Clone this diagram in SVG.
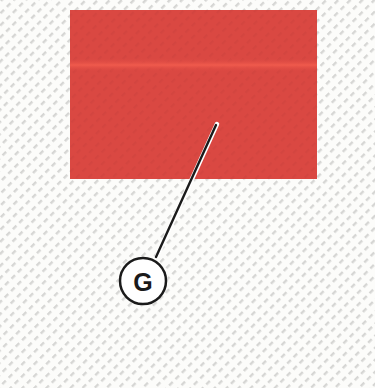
<svg xmlns="http://www.w3.org/2000/svg" width="375" height="388" viewBox="0 0 375 388">
  <style>
    .lead-halo { stroke: #ffffff; stroke-width: 4.5; fill: none; stroke-linecap: round; }
    .lead { stroke: #1a1a1a; stroke-width: 2.4; fill: none; stroke-linecap: round; }
    .callout { fill: #ffffff; stroke: #1a1a1a; stroke-width: 2.5; }
    .callout-text { font-family: "Liberation Sans", Arial, sans-serif; font-weight: bold; font-size: 25px; fill: #1a1a1a; text-anchor: middle; }
  </style>
  <defs>
    <pattern id="hatch" width="9" height="8.5" patternUnits="userSpaceOnUse" patternTransform="rotate(-45)">
      <rect x="0" y="0" width="5" height="2.4" fill="#d6d6d4"/>
    </pattern>
    <pattern id="hatchRed" width="9" height="8.5" patternUnits="userSpaceOnUse" patternTransform="rotate(-45)">
      <rect x="0" y="0" width="5" height="2.4" fill="#c4403b" opacity="0.3"/>
    </pattern>
    <linearGradient id="stripe" x1="0" y1="0" x2="0" y2="1">
      <stop offset="0" stop-color="#da4842" stop-opacity="0"/>
      <stop offset="0.5" stop-color="#f05a4c"/>
      <stop offset="1" stop-color="#da4842" stop-opacity="0"/>
    </linearGradient>
  </defs>
  <rect x="0" y="0" width="375" height="388" fill="#fcfcfa"/>
  <rect x="0" y="0" width="375" height="388" fill="url(#hatch)"/>
  <g id="panel">
    <rect x="70" y="10" width="247" height="169" fill="#da4842"/>
    <rect x="70" y="10" width="247" height="169" fill="url(#hatchRed)"/>
    <rect x="70" y="58" width="247" height="14" fill="url(#stripe)"/>
  </g>
  <g id="connectors">
    <line class="lead-halo" x1="217" y1="124" x2="157" y2="256"/>
    <line class="lead" x1="216" y1="125" x2="156" y2="257"/>
  </g>
  <g id="label-G">
    <circle class="callout" cx="143" cy="281" r="23"/>
    <text class="callout-text" x="143" y="291">G</text>
  </g>
</svg>
